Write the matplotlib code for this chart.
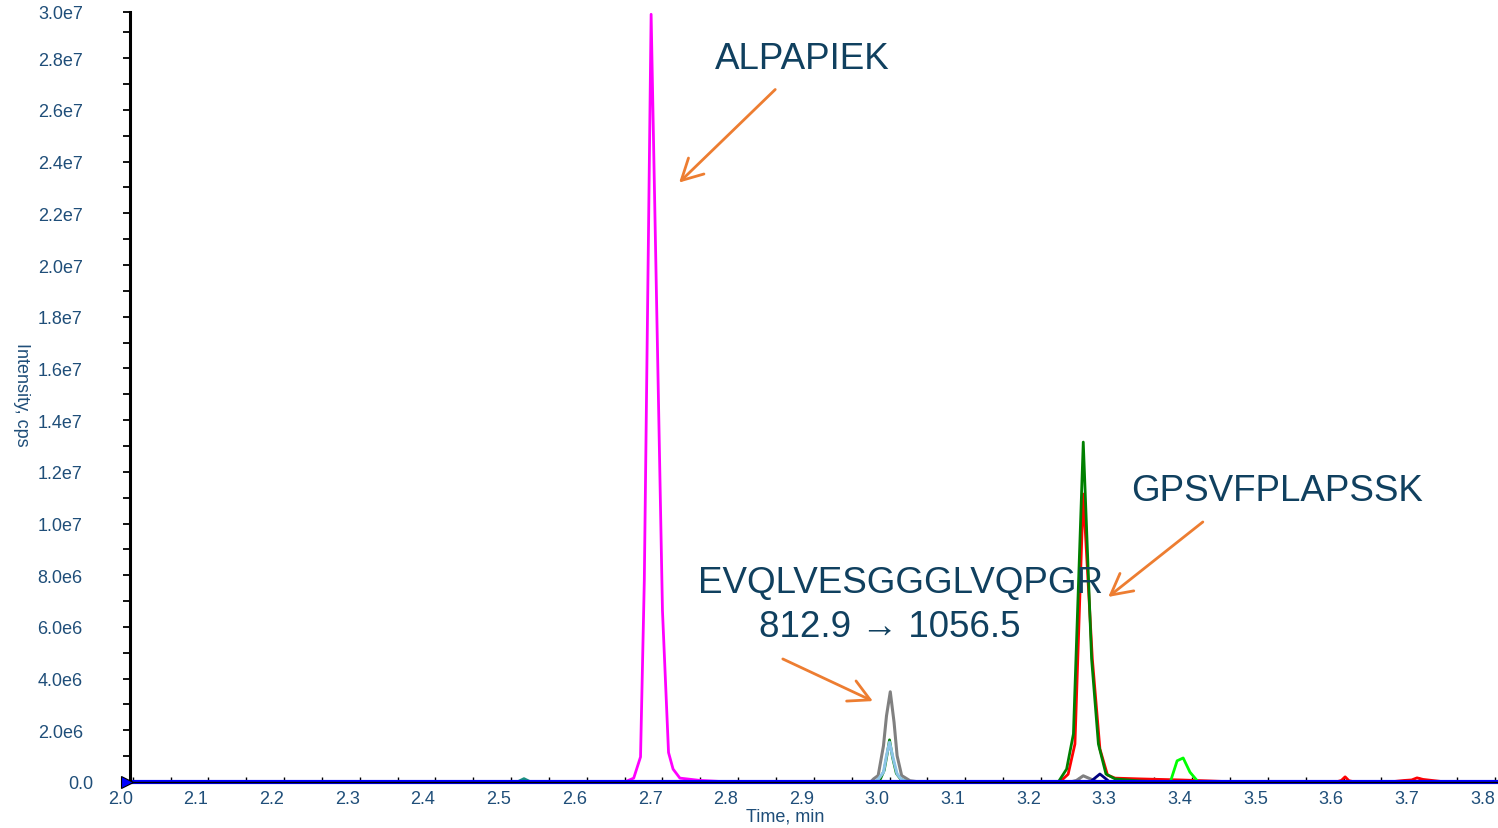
import matplotlib
matplotlib.use("Agg")
import matplotlib.pyplot as plt
import matplotlib.transforms as mtransforms
import numpy as np

# retention time (min) and intensity (cps) for each MRM trace
magenta_t = [2.000, 2.650, 2.662, 2.671, 2.676, 2.685, 2.700, 2.708, 2.714, 2.723, 2.750, 2.790, 3.804]
magenta_y = [0, 0, 0.15e6, 0.97e6, 7.8e6, 2.97e7, 6.62e6, 1.14e6, 0.5e6, 0.15e6, 0.06e6, 0, 0]

gray_t = [2.000, 2.975, 2.979, 2.985, 2.992, 2.996, 3.001, 3.006, 3.010, 3.016, 3.027, 3.040,
          3.239, 3.247, 3.256, 3.267, 3.275, 3.804]
gray_y = [0, 0, 0.12e6, 0.25e6, 1.4e6, 2.56e6, 3.49e6, 2.31e6, 1.02e6, 0.25e6, 0.05e6, 0,
          0, 0.06e6, 0.24e6, 0.1e6, 0, 0]

red_t = [2.000, 3.225, 3.236, 3.245, 3.256, 3.268, 3.278, 3.288, 3.298, 3.331, 3.384, 3.424, 3.460,
         3.590, 3.597, 3.602, 3.607, 3.615, 3.660, 3.680, 3.690, 3.697, 3.705, 3.720, 3.735, 3.804]
red_y = [0, 0, 0.3e6, 1.47e6, 1.114e7, 4.76e6, 1.28e6, 0.27e6, 0.15e6, 0.12e6, 0.08e6, 0.04e6, 0,
         0, 0.06e6, 0.2e6, 0.05e6, 0, 0, 0.06e6, 0.08e6, 0.16e6, 0.1e6, 0.05e6, 0, 0]

green_t = [2.000, 2.982, 2.988, 2.993, 2.997, 3.000, 3.004, 3.009, 3.015, 3.025,
           3.223, 3.234, 3.243, 3.256, 3.267, 3.276, 3.286, 3.298, 3.331, 3.360, 3.804]
green_y = [0, 0, 0.12e6, 0.45e6, 1.1e6, 1.63e6, 0.95e6, 0.33e6, 0.1e6, 0,
           0, 0.5e6, 1.86e6, 1.315e7, 4.76e6, 1.47e6, 0.31e6, 0.12e6, 0.04e6, 0, 0]

lightblue_t = [2.000, 2.980, 2.985, 2.992, 2.996, 3.000, 3.005, 3.010, 3.016, 3.025, 3.804]
lightblue_y = [0, 0, 0.1e6, 0.38e6, 1.02e6, 1.54e6, 0.89e6, 0.31e6, 0.09e6, 0, 0]

navy_t = [2.000, 3.265, 3.278, 3.291, 3.804]
navy_y = [0, 0, 0.31e6, 0, 0]

lime_t = [2.000, 3.371, 3.380, 3.388, 3.397, 3.408, 3.804]
lime_y = [0, 0, 0.82e6, 0.93e6, 0.38e6, 0, 0]

teal_t = [2.000, 2.508, 2.517, 2.526, 3.804]
teal_y = [0, 0, 0.13e6, 0, 0]

blue_t = [2.000, 3.804]
blue_y = [0, 0]

x_major = [2.0, 2.1, 2.2, 2.3, 2.4, 2.5, 2.6, 2.7, 2.8, 2.9, 3.0, 3.1, 3.2, 3.3, 3.4, 3.5, 3.6, 3.7, 3.8]
y_top = 2.98e7


def y_label(v):
    if v == 0:
        return "0.0"
    if v >= y_top:
        return "3.0e7"
    exp = int(np.floor(np.log10(v)))
    return f"{v / 10 ** exp:.1f}e{exp}"


def main():
    plt.rcParams["font.family"] = ["Liberation Sans", "DejaVu Sans"]
    label_color = "#1f4e79"
    note_color = "#10405f"
    arrow_color = "#ed7d31"

    fig = plt.figure(figsize=(14.98, 8.29), dpi=100)
    ax = fig.add_axes([130 / 1498, 46 / 829, 1368 / 1498, 770.3 / 829])

    traces = [
        (gray_t, gray_y, "#808080", 2.2),
        (red_t, red_y, "#ff0000", 2.0),
        (green_t, green_y, "#008000", 2.0),
        (lightblue_t, lightblue_y, "#8cc4e6", 2.2),
        (navy_t, navy_y, "#000080", 2.0),
        (lime_t, lime_y, "#00ff00", 2.0),
        (teal_t, teal_y, "#1a9080", 2.0),
        (magenta_t, magenta_y, "#ff00ff", 2.0),
        (blue_t, blue_y, "#0000ff", 3.0),
    ]
    for t, y, c, lw in traces:
        ax.plot(t, y, color=c, lw=lw, solid_joinstyle="round", clip_on=False)

    x_min = 2.0 - 2.7 / 756.7
    ax.set_xlim(x_min, 3.804)
    ax.set_ylim(0, y_top)

    # start marker at the left end of the baseline
    ax.plot([1.9925], [0], marker=">", ms=8, mfc="#0000ff", mec="black", mew=0.8,
            clip_on=False, zorder=5)

    for side in ["top", "right"]:
        ax.spines[side].set_visible(False)
    ax.spines["left"].set_linewidth(2.2)
    ax.spines["bottom"].set_linewidth(1.0)

    ax.set_xticks(x_major, labels=[f"{v:.1f}" for v in x_major], ha="right")
    ax.set_xticks(np.arange(2.05, 3.8, 0.1), minor=True)
    y_major = list(np.arange(0, 2.9e7, 2e6)) + [y_top]
    ax.set_yticks(y_major, labels=[y_label(v) for v in y_major])
    ax.set_yticks(np.arange(1e6, 2.95e7, 2e6), minor=True)

    ax.tick_params(axis="x", which="both", direction="in", length=3.5, width=1,
                   labelsize=13, labelcolor=label_color, pad=6)
    ax.tick_params(axis="y", which="both", direction="out", length=5, width=1.3,
                   labelsize=13, labelcolor=label_color, pad=29)

    zero_lbl = ax.get_yticklabels()[0]
    zero_lbl.set_transform(zero_lbl.get_transform()
                           + mtransforms.ScaledTranslation(0.11, 0, fig.dpi_scale_trans))

    ax.set_xlabel("Time, min", fontsize=13, color=label_color, va="center")
    ax.xaxis.set_label_coords(0.479, -0.044)
    ax.set_ylabel("Intensity, cps", fontsize=13, color=label_color, rotation=270, va="center")
    ax.yaxis.set_label_coords(-0.079, 0.504)

    ax.text(2.885, 2.80e7, "ALPAPIEK", fontsize=26.5, color=note_color, ha="center", va="center")
    ax.text(3.512, 1.126e7, "GPSVFPLAPSSK", fontsize=26.5, color=note_color, ha="center", va="center")
    ax.text(3.015, 7.70e6, "EVQLVESGGGLVQPGR", fontsize=26.5, color=note_color, ha="center", va="center")
    ax.text(3.000, 6.0e6, "812.9 \u2192 1056.5", fontsize=26.5, color=note_color, ha="center",
            va="center", family=["Liberation Sans", "DejaVu Sans"])

    arrows = [
        ((2.849, 2.679e7), (2.722, 2.319e7)),
        ((3.414, 1.006e7), (3.289, 7.16e6)),
        ((2.859, 4.76e6), (2.978, 3.13e6)),
    ]
    for tail, head in arrows:
        ax.annotate("", xy=head, xytext=tail,
                    arrowprops=dict(arrowstyle="->,head_length=0.75,head_width=0.4",
                                    color=arrow_color, lw=2, mutation_scale=20,
                                    shrinkA=0, shrinkB=0))

    fig.savefig("out.png", dpi=100)


if __name__ == "__main__":
    main()
